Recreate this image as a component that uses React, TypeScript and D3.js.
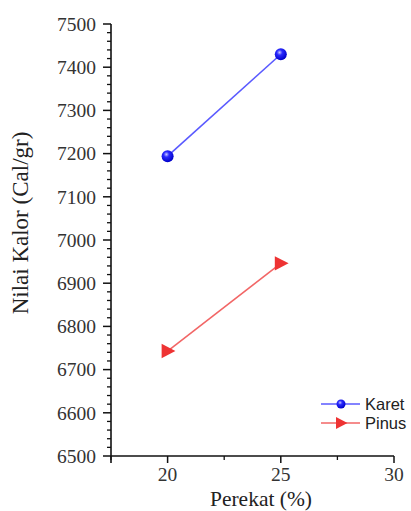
import React from "react";
import * as d3 from "d3";

const perekat = [20, 25];
const karet = [7194, 7430];
const pinus = [6743, 6946];
const xMajorTicks = [20, 25, 30];
const xMinorTicks = [17.5, 22.5, 27.5];
const yMajorTicks = [6500, 6600, 6700, 6800, 6900, 7000, 7100, 7200, 7300, 7400, 7500];
const seriesNames = ["Karet", "Pinus"];

export default function App() {
  const W = 411, H = 511;
  const x = d3.scaleLinear().domain([17.5, 30]).range([111, 394]);
  const y = d3.scaleLinear().domain([6500, 7500]).range([456, 24]);
  const yMinor = d3.range(6500, 7501, 20).filter((v) => v % 100 !== 0);
  const line = d3.line<number>().x((_, i) => x(perekat[i])).y((d) => y(d));
  const serif = "'Liberation Serif', 'Times New Roman', serif";
  const sans = "'Liberation Sans', Arial, sans-serif";
  const tri = (cx: number, cy: number, s: number) =>
    `M${cx - s * 0.5},${cy - s * 0.6}L${cx + s * 0.65},${cy}L${cx - s * 0.5},${cy + s * 0.6}Z`;
  const legY = [404, 423];
  return (
    <svg width={W} height={H} style={{ position: "absolute", left: 0, top: 0, background: "#fff" }}>
      <defs>
        <radialGradient id="ball" cx="0.4" cy="0.35" r="0.65">
          <stop offset="0" stopColor="#c8c8ff" />
          <stop offset="0.35" stopColor="#2a2aff" />
          <stop offset="1" stopColor="#0000c8" />
        </radialGradient>
      </defs>
      {/* axes */}
      <line x1={x(17.5)} x2={x(17.5)} y1={y(7500)} y2={y(6500) + 7} stroke="#111" strokeWidth={1.6} />
      <line x1={x(17.5)} x2={x(30)} y1={y(6500)} y2={y(6500)} stroke="#111" strokeWidth={1.6} />
      {yMajorTicks.map((v) => (
        <g key={"ym" + v}>
          <line x1={x(17.5) - 8} x2={x(17.5)} y1={y(v)} y2={y(v)} stroke="#111" strokeWidth={1.5} />
          <text x={x(17.5) - 15} y={y(v)} dy="0.35em" textAnchor="end" fontFamily={serif} fontSize={19.5} fill="#333">
            {v}
          </text>
        </g>
      ))}
      {yMinor.map((v) => (
        <line key={"yn" + v} x1={x(17.5) - 4} x2={x(17.5)} y1={y(v)} y2={y(v)} stroke="#111" strokeWidth={1.3} />
      ))}
      {xMajorTicks.map((v) => (
        <g key={"xm" + v}>
          <line x1={x(v)} x2={x(v)} y1={y(6500)} y2={y(6500) + 7} stroke="#111" strokeWidth={1.5} />
          <text x={x(v)} y={y(6500) + 25} textAnchor="middle" fontFamily={serif} fontSize={19.5} fill="#333">
            {v}
          </text>
        </g>
      ))}
      {xMinorTicks.map((v) => (
        <line key={"xn" + v} x1={x(v)} x2={x(v)} y1={y(6500)} y2={y(6500) + 4} stroke="#111" strokeWidth={1.3} />
      ))}
      <text x={261} y={506} textAnchor="middle" fontFamily={serif} fontSize={21.5} fill="#222">
        Perekat (%)
      </text>
      <text
        transform={`translate(28,223) rotate(-90)`}
        textAnchor="middle"
        fontFamily={serif}
        fontSize={23}
        fill="#222"
      >
        Nilai Kalor (Cal/gr)
      </text>
      {/* series */}
      <path d={line(karet) || ""} fill="none" stroke="#5a5aff" strokeWidth={1.6} />
      <path d={line(pinus) || ""} fill="none" stroke="#f26666" strokeWidth={1.6} />
      {karet.map((v, i) => (
        <circle key={"k" + i} cx={x(perekat[i])} cy={y(v)} r={6} fill="url(#ball)" />
      ))}
      {pinus.map((v, i) => (
        <path key={"p" + i} d={tri(x(perekat[i]), y(v), 12)} fill="#ee3333" />
      ))}
      {/* legend */}
      <g>
        <line x1={321} x2={360} y1={legY[0]} y2={legY[0]} stroke="#5a5aff" strokeWidth={1.5} />
        <circle cx={341} cy={legY[0]} r={4.5} fill="url(#ball)" />
        <text x={365} y={legY[0]} dy="0.35em" fontFamily={sans} fontSize={16.5} fill="#222">
          {seriesNames[0]}
        </text>
        <line x1={321} x2={360} y1={legY[1]} y2={legY[1]} stroke="#f26666" strokeWidth={1.5} />
        <path d={tri(341, legY[1], 10)} fill="#ee3333" />
        <text x={365} y={legY[1]} dy="0.35em" fontFamily={sans} fontSize={16.5} fill="#222">
          {seriesNames[1]}
        </text>
      </g>
    </svg>
  );
}
